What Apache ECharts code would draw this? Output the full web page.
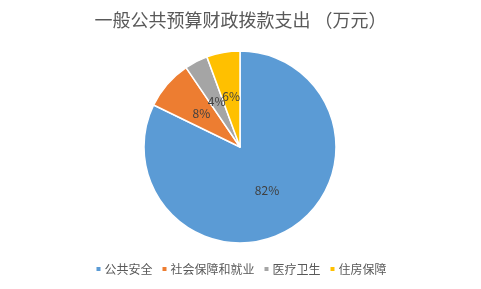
<!DOCTYPE html>
<html><head><meta charset="utf-8">
<script src="https://cdn.jsdelivr.net/npm/echarts@6/dist/echarts.min.js"></script>
<style>html,body{margin:0;padding:0;background:#fff}#c{width:481px;height:289px}</style>
</head><body><div id="c"></div>
<script>
const titleText = '一般公共预算财政拨款支出 （万元）';
const categories = ['公共安全', '社会保障和就业', '医疗卫生', '住房保障'];
const values = [82.2, 8.3, 3.9, 5.6];
const colors = ['#5B9BD5', '#ED7D31', '#A5A5A5', '#FFC000'];
const FONT = "'Noto Sans CJK SC', 'Noto Sans', sans-serif";

const chart = echarts.init(document.getElementById('c'));
chart.setOption({
  animation: false,
  color: colors,
  title: {
    text: titleText, left: 'center', top: 6,
    textStyle: {fontFamily: FONT, fontSize: 18, fontWeight: 'normal', color: '#595959'}
  },
  legend: {
    bottom: 9, left: 'center', itemWidth: 6, itemHeight: 6, itemGap: 8,
    icon: 'rect',
    textStyle: {fontFamily: FONT, fontSize: 12, color: '#595959', padding: [0,0,0,-2]},
    data: categories
  },
  series: [{
    type: 'pie',
    center: [240, 147],
    radius: 96,
    startAngle: 90,
    clockwise: true,
    avoidLabelOverlap: false,
    labelLayout: {hideOverlap: false},
    itemStyle: {borderColor: '#fff', borderWidth: 1.5},
    label: {
      show: true, position: 'inside',
      formatter: p => Math.round(p.percent) + '%',
      fontFamily: FONT, fontSize: 12, color: '#404040'
    },
    labelLine: {show: false},
    data: categories.map((c, i) => ({name: c, value: values[i]}))
  }]
});
</script></body></html>
